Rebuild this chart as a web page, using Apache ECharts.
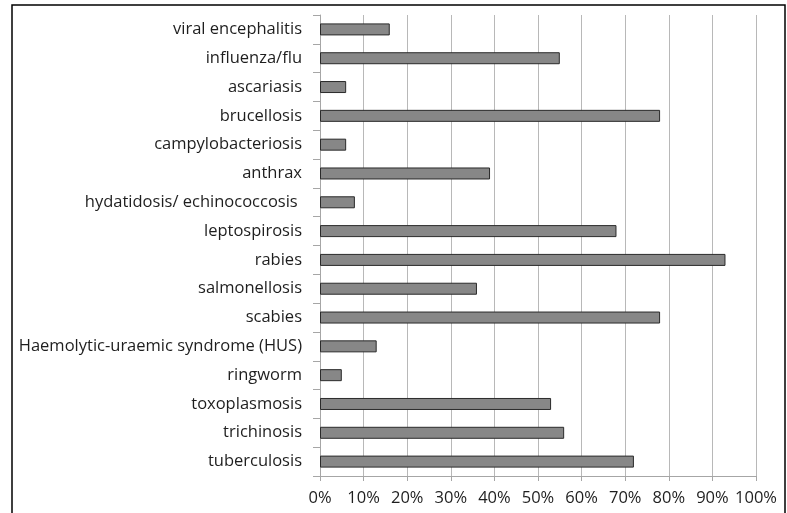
<!DOCTYPE html>
<html>
<head>
<meta charset="utf-8">
<script src="https://cdn.jsdelivr.net/npm/echarts@6/dist/echarts.min.js"></script>
<style>html,body{margin:0;padding:0;background:#fff}#c{width:787px;height:513px}</style>
</head>
<body>
<div id="c"></div>
<script>
var categories = ["viral encephalitis","influenza/flu","ascariasis","brucellosis","campylobacteriosis","anthrax","hydatidosis/ echinococcosis ","leptospirosis","rabies","salmonellosis","scabies","Haemolytic-uraemic syndrome (HUS)","ringworm","toxoplasmosis","trichinosis","tuberculosis"];
var values = [16,55,6,78,6,39,8,68,93,36,78,13,5,53,56,72];
var xTicks = [0,10,20,30,40,50,60,70,80,90,100];

var chart = echarts.init(document.getElementById('c'), null, {renderer:'canvas'});
chart.setOption({
  animation:false,
  backgroundColor:'#fff',
  textStyle:{fontFamily:'Open Sans'},
  graphic:[{type:'rect',shape:{x:12,y:5,width:773,height:530},style:{fill:'none',stroke:'#000',lineWidth:1.5},silent:true}],
  grid:{left:320,right:31,top:15,bottom:37,containLabel:false},
  xAxis:{type:'value',min:0,max:100,interval:10,
    axisLine:{show:true,lineStyle:{color:'#a6a6a6'}},
    axisTick:{show:true,length:5,lineStyle:{color:'#a6a6a6'}},
    splitLine:{show:true,lineStyle:{color:'#b8b8b8',width:1}},
    axisLabel:{formatter:function(v){return xTicks.indexOf(v)>=0? v+'%':'';},color:'#1e1e1e',fontSize:16.5,margin:14,fontFamily:'Open Sans'}
  },
  yAxis:{type:'category',inverse:true,data:categories,
    axisLine:{show:true,lineStyle:{color:'#a6a6a6'}},
    axisTick:{show:true,length:7,lineStyle:{color:'#a6a6a6'}},
    axisLabel:{color:'#1e1e1e',fontSize:16.5,margin:18,fontFamily:'Open Sans'}
  },
  series:[{type:'bar',data:values,barWidth:12,
    itemStyle:{color:'#878787',borderColor:'#2a2a2a',borderWidth:1}}]
});
</script>
</body>
</html>
